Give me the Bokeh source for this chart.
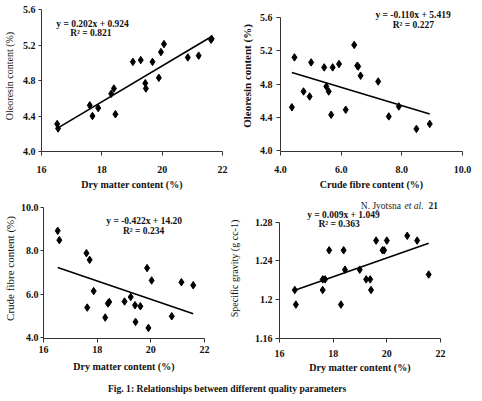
from bokeh.plotting import figure
from bokeh.models import FixedTicker, Label, Div, Range1d, NumeralTickFormatter
from bokeh.layouts import column, row
from bokeh.embed import file_html
from bokeh.resources import INLINE

# ---------------- data ----------------
# Panel 1: Oleoresin vs dry matter
dm_1 = [16.52, 16.55, 17.60, 17.69, 17.88, 18.31, 18.40, 18.45, 19.03, 19.29,
        19.44, 19.46, 19.68, 19.89, 19.96, 20.06, 20.85, 21.21, 21.62, 21.64]
ol_1 = [4.31, 4.26, 4.52, 4.40, 4.49, 4.65, 4.71, 4.42, 5.01, 5.03,
        4.77, 4.71, 5.01, 4.83, 5.12, 5.21, 5.06, 5.08, 5.26, 5.27]
fit_1 = (0.202, 0.924)
eq_1 = ["y = 0.202x + 0.924", "R\u00b2 = 0.821"]

# Panel 2: Oleoresin vs crude fibre
cf_2 = [4.375, 4.46, 4.76, 4.96, 5.01, 5.44, 5.51, 5.59, 5.67, 5.72,
        5.93, 6.15, 6.43, 6.53, 6.56, 6.64, 7.22, 7.57, 7.90, 8.48, 8.92]
ol_2 = [4.52, 5.12, 4.71, 4.65, 5.06, 5.00, 4.77, 4.71, 4.43, 5.00,
        5.04, 4.49, 5.27, 5.02, 5.01, 4.90, 4.83, 4.41, 4.53, 4.26, 4.32]
fit_2 = (-0.110, 5.419)
eq_2 = ["y = -0.110x + 5.419", "R\u00b2 = 0.227"]

# Panel 3: Crude fibre vs dry matter
dm_3 = [16.53, 16.59, 17.60, 17.72, 17.63, 17.87, 18.30, 18.40, 18.45, 19.02,
        19.25, 19.41, 19.61, 19.43, 19.86, 19.91, 20.03, 20.78, 21.14, 21.58]
cf_3 = [8.92, 8.49, 7.89, 7.58, 5.38, 6.14, 4.92, 5.57, 5.64, 5.66,
        5.87, 5.49, 5.44, 4.72, 7.20, 4.44, 6.63, 4.98, 6.55, 6.41]
fit_3 = (-0.422, 14.20)
eq_3 = ["y = -0.422x + 14.20", "R\u00b2 = 0.234"]

# Panel 4: Specific gravity vs dry matter
dm_4 = [16.57, 16.61, 17.61, 17.61, 17.70, 17.85, 18.29, 18.39, 18.44, 18.99,
        19.23, 19.38, 19.41, 19.60, 19.84, 19.90, 20.00, 20.76, 21.13, 21.56]
sg_4 = [1.210, 1.195, 1.210, 1.221, 1.221, 1.251, 1.195, 1.251, 1.231, 1.231,
        1.221, 1.221, 1.210, 1.261, 1.251, 1.251, 1.261, 1.266, 1.261, 1.226]
fit_4 = (0.0097, 1.049)
eq_4 = ["y = 0.009x + 1.049", "R\u00b2 = 0.363"]

ticks_dm = [16, 18, 20, 22]
ticks_ol = [4.0, 4.4, 4.8, 5.2, 5.6]
ticks_cf_x = [4.0, 6.0, 8.0, 10.0]
ticks_cf_y = [4.0, 6.0, 8.0, 10.0]
ticks_sg = [1.16, 1.20, 1.24, 1.28]

caption = "Fig. 1: Relationships between different quality parameters"
header = ["N. Jyotsna ", "et al.", "21"]

FONT = "Liberation Serif"
INK = "#111111"


def span(lo, hi, px_lo, px_hi, frame_top, frame_bottom):
    """Extend an axis range so that lo/hi land at the given pixel rows of a frame."""
    k = (hi - lo) / (px_lo - px_hi)
    return (lo - (frame_bottom - px_lo) * k, hi + (px_hi - frame_top) * k)


def panel(xs, ys, fit, eq, eq_pos, xr, yr, yfull, ybounds, xticks, yticks, xfmt, yfmt,
          xtitle, ytitle, ytitle_style, ytitle_size, w, h, borders, st):
    p = figure(width=w, height=h, output_backend="svg", toolbar_location=None,
               title=None,
               x_range=Range1d(xr[0], xr[1]), y_range=Range1d(yfull[0], yfull[1]),
               min_border_left=borders[0], min_border_right=borders[1],
               min_border_top=borders[2], min_border_bottom=borders[3])
    p.outline_line_color = None
    p.grid.visible = False
    p.background_fill_color = "white"
    p.border_fill_color = "white"
    for ax in (p.xaxis[0], p.yaxis[0]):
        ax.axis_line_color = "#333333"
        ax.axis_line_width = 1
        ax.major_tick_line_color = "#333333"
        ax.major_tick_in = 0
        ax.minor_tick_line_color = None
        ax.major_label_text_font = FONT
        ax.major_label_text_font_style = "bold"
        ax.major_label_text_font_size = "10px"
        ax.major_label_text_color = INK
        ax.axis_label_text_font = FONT
        ax.axis_label_text_color = INK
    xa, ya = p.xaxis[0], p.yaxis[0]
    xa.ticker = FixedTicker(ticks=xticks)
    ya.ticker = FixedTicker(ticks=yticks)
    xa.formatter = NumeralTickFormatter(format=xfmt)
    ya.formatter = NumeralTickFormatter(format=yfmt)
    xa.bounds = (xr[0], xr[1])
    ya.bounds = ybounds
    xa.axis_label = xtitle
    ya.axis_label = ytitle
    xa.axis_label_text_font_style = "bold"
    xa.axis_label_text_font_size = "10px"
    ya.axis_label_text_font_style = ytitle_style
    ya.axis_label_text_font_size = ytitle_size
    xa.major_tick_out = st[0]
    xa.major_label_standoff = st[1]
    xa.axis_label_standoff = st[2]
    ya.major_tick_out = st[3]
    ya.major_label_standoff = st[4]
    ya.axis_label_standoff = st[5]

    # trend line over data range
    lx = [min(xs), max(xs)]
    ly = [fit[0] * v + fit[1] for v in lx]
    p.line(lx, ly, line_color="black", line_width=1.6)
    p.scatter(xs, ys, marker="diamond", size=7.5, color="black")

    for text, (tx, ty) in zip(eq, eq_pos):
        p.add_layout(Label(x=tx, y=ty, text=text, text_font=FONT,
                           text_font_style="bold", text_font_size="9.5px",
                           text_color=INK, text_baseline="middle",
                           text_align="left"))
    return p


# row 1: frames span rows 0..151 ; row 2: frames span rows 198..340
y1 = span(4.0, 5.6, 151, 9, 0, 151)
y2 = span(4.0, 5.6, 150, 17, 0, 151)
y3 = span(4.0, 10.0, 339, 207, 198, 340)
y4 = span(1.16, 1.28, 340, 222, 198, 340)

p1 = panel(dm_1, ol_1, fit_1, eq_1, [(16.49, 5.44), (16.95, 5.33)],
           (16, 22), (4.0, 5.6), y1, (4.0, 5.6), ticks_dm, ticks_ol, "0", "0.0",
           "Dry matter content (%)", "Oleoresin content (%)", "normal", "10px",
           235, 198, (38, 13, 0, 47), (4, 10, 3, 3, 3, 5))

p2 = panel(cf_2, ol_2, fit_2, eq_2, [(7.13, 5.633), (7.70, 5.512)],
           (4.0, 10.0), (4.0, 5.6), y2, (y2[0], 5.6), ticks_cf_x, ticks_ol,
           "0.0", "0.0",
           "Crude fibre content (%)", "Oleoresin content (%)", "bold", "11px",
           247, 198, (45, 20, 0, 47), (4, 10, 3, 4, 4, 4))

p3 = panel(dm_3, cf_3, fit_3, eq_3, [(18.34, 9.35), (18.96, 8.89)],
           (16, 22), (4.0, 10.0), y3, (y3[0], 10.0), ticks_dm, ticks_cf_y, "0", "0.0",
           "Dry matter content (%)", "Crude fibre content (%)", "normal", "11px",
           225, 182, (38, 21, 0, 42), (4, 3, 5, 3, 2, 2))

p4 = panel(dm_4, sg_4, fit_4, eq_4, [(17.03, 1.287), (17.45, 1.278)],
           (16, 22), (1.16, 1.28), y4, (1.16, 1.28), ticks_dm, ticks_sg,
           "0", "0.0[0]",
           "Dry matter content (%)", "Specific gravity (g cc-1)", "normal", "10px",
           257, 182, (50, 42, 0, 42), (4, 7, 2, 4, 3, 12))

# running header on the bottom-right panel
hx = [19.03, 20.66, 21.55]
styles = ["normal", "italic", "bold"]
for t, x0, s in zip(header, hx, styles):
    p4.add_layout(Label(x=x0, y=1.297, text=t, text_font=FONT,
                        text_font_style=s, text_font_size="9.5px",
                        text_color="#222222", text_baseline="middle"))

cap = Div(text=('<div style="padding-left:108px;font-family:\'Liberation Serif\';'
                'font-weight:bold;font-size:9.6px;line-height:12px;color:#111;'
                'white-space:nowrap;">' + caption + '</div>'),
          width=482, height=12, margin=(0, 0, 0, 0))

layout = column(row(p1, p2), row(p3, p4), cap)
open("out.html", "w").write(file_html(layout, INLINE))
